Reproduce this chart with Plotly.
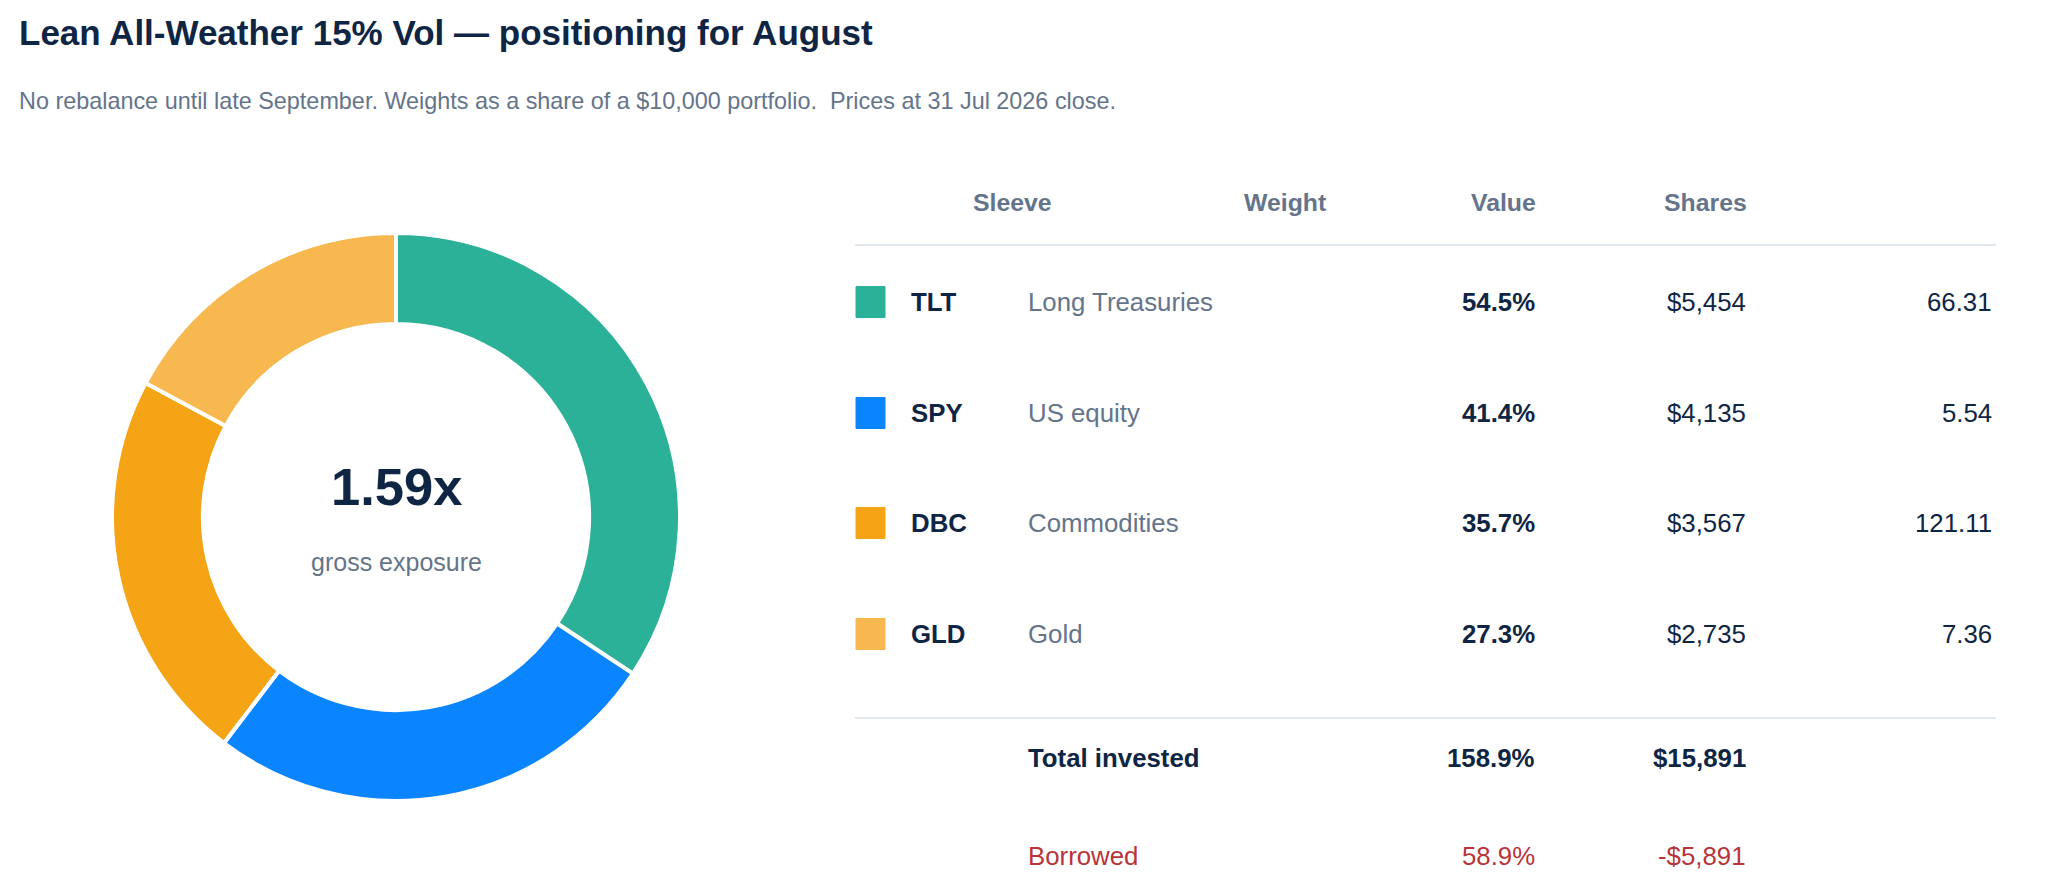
import plotly.graph_objects as go

# ---- data ----
tickers = ["TLT", "SPY", "DBC", "GLD"]
sleeves = ["Long Treasuries", "US equity", "Commodities", "Gold"]
weights = [54.5, 41.4, 35.7, 27.3]          # % of $10,000 portfolio
values = [5454, 4135, 3567, 2735]           # $
shares = [66.31, 5.54, 121.11, 7.36]
colors = ["#2bb197", "#0a84ff", "#f5a416", "#f7b84f"]
headers = ["Sleeve", "Weight", "Value", "Shares"]
total_weight = 158.9
total_value = 15891
borrowed_weight = 58.9
borrowed_value = -5891
gross_exposure = 1.59

W, H = 2048, 894
OFF = 8  # page body margin offset
FONT = "Liberation Sans, Arial, Helvetica, sans-serif"
DARK = "#0f2544"
GRAY = "#64748b"
RED = "#b8343a"
LINE = "#e2e8f0"


def px(x):
    return (x - OFF) / W


def py(y):
    return 1 - (y - OFF) / H


fig = go.Figure()

# donut
cx, cy, r = 396, 517, 284
fig.add_trace(go.Pie(
    labels=tickers,
    values=weights,
    marker=dict(colors=colors, line=dict(color="white", width=4)),
    hole=0.68,
    sort=False,
    direction="clockwise",
    rotation=0,
    textinfo="none",
    hovertemplate="%{label}: %{value:.1f}%<extra></extra>",
    domain=dict(x=[px(cx - r), px(cx + r)], y=[py(cy + r), py(cy - r)]),
    showlegend=False,
))

ann = []
shapes = []


def text(x, y, s, size, color=DARK, bold=False, anchor="left"):
    ann.append(dict(
        x=px(x), y=py(y), xref="paper", yref="paper",
        text=f"<b>{s}</b>" if bold else s,
        showarrow=False, xanchor=anchor, yanchor="middle",
        font=dict(family=FONT, size=size, color=color),
    ))


# title + subtitle
text(17, 33, "Lean All-Weather 15% Vol — positioning for August", 35, DARK, True)
text(17, 101, "No rebalance until late September. Weights as a share of a $10,000 portfolio.&nbsp; Prices at 31 Jul 2026 close.", 23.4, GRAY)

# center labels
text(cx, 486, f"{gross_exposure:.2f}x", 52.5, DARK, True, "center")
text(cx, 562, "gross exposure", 25, GRAY, False, "center")

# table headers
hy = 203
HS = 24.8
text(971, hy, headers[0], HS, GRAY, True, "left")
text(1242, hy, headers[1], HS, GRAY, True, "left")
text(1538, hy, headers[2], HS, GRAY, True, "right")
text(1749, hy, headers[3], HS, GRAY, True, "right")

x0_line, x1_line = 855, 1996
shapes.append(dict(type="line", xref="paper", yref="paper",
                   x0=px(x0_line), x1=px(x1_line), y0=py(245), y1=py(245),
                   line=dict(color=LINE, width=2)))

row_y = [302, 413, 523, 634]
FS = 25.8
for i, t in enumerate(tickers):
    y = row_y[i]
    shapes.append(dict(type="rect", xref="paper", yref="paper",
                       x0=px(856), x1=px(885), y0=py(y + 15.5), y1=py(y - 15.5),
                       fillcolor=colors[i], line=dict(color=colors[i], width=1)))
    text(909, y, t, FS, DARK, True, "left")
    text(1026, y, sleeves[i], FS, GRAY, False, "left")
    text(1537, y, f"{weights[i]:.1f}%", FS, DARK, True, "right")
    text(1748, y, f"${values[i]:,}", FS, DARK, False, "right")
    text(1994, y, f"{shares[i]:.2f}", FS, DARK, False, "right")

shapes.append(dict(type="line", xref="paper", yref="paper",
                   x0=px(x0_line), x1=px(x1_line), y0=py(718), y1=py(718),
                   line=dict(color=LINE, width=2)))

text(1026, 758, "Total invested", FS, DARK, True, "left")
text(1537, 758, f"{total_weight:.1f}%", FS, DARK, True, "right")
text(1748, 758, f"${total_value:,}", FS, DARK, True, "right")

text(1026, 856, "Borrowed", FS, RED, False, "left")
text(1537, 856, f"{borrowed_weight:.1f}%", FS, RED, False, "right")
text(1748, 856, f"-${abs(borrowed_value):,}", FS, RED, False, "right")

fig.update_layout(
    width=W, height=H,
    margin=dict(l=0, r=0, t=0, b=0),
    paper_bgcolor="white", plot_bgcolor="white",
    annotations=ann, shapes=shapes,
    font=dict(family=FONT),
)

fig.write_html("out.html")
